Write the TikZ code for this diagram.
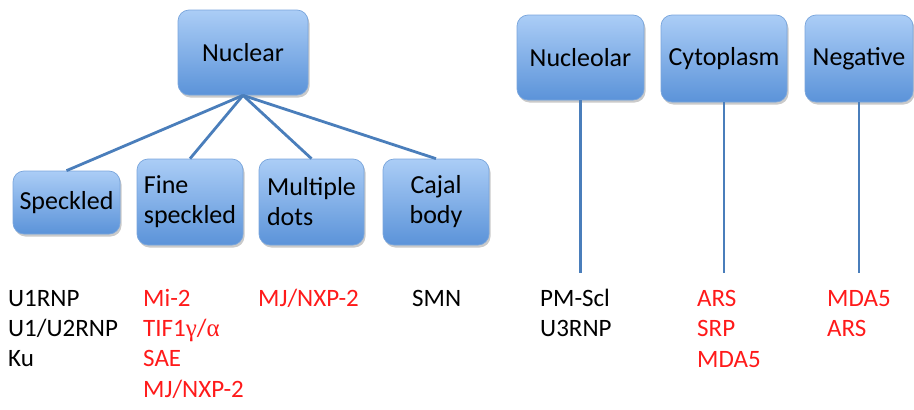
\documentclass[tikz,border=0pt]{standalone}
\usepackage{fontspec}
\setmainfont{Carlito}
\newfontfamily\greekfont{Liberation Serif}
\usetikzlibrary{shadows}

\definecolor{boxtop}{HTML}{ABCDF6}
\definecolor{boxbottom}{HTML}{5B93D9}
\definecolor{boxedge}{HTML}{79A5DC}
\definecolor{linkblue}{HTML}{4A7EBB}
\definecolor{antired}{HTML}{FF1A1A}

\tikzset{
  classbox/.style={draw=boxedge, line width=0.7pt, rounded corners=11pt,
    top color=boxtop, bottom color=boxbottom, inner sep=4pt,
    font=\fontsize{26}{30}\selectfont,
    drop shadow={shadow xshift=1.5pt, shadow yshift=-2.5pt, opacity=0.35, fill=black!60}},
  link/.style={draw=linkblue, line width=2.8pt},
  lbl/.style={anchor=base west, inner sep=0pt, font=\fontsize{25}{30}\selectfont},
  redlbl/.style={lbl, text=antired}
}

\begin{document}
\begin{tikzpicture}[x=1pt, y=-1pt]
  \useasboundingbox (0,0) rectangle (914,410);

  % pattern classes
  \node[classbox, minimum width=130pt, minimum height=85pt] (nuc) at (243,52.5) {Nuclear};
  \node[classbox, minimum width=107pt, minimum height=63pt] (spk) at (66.5,202.5) {Speckled};
  \node[classbox, minimum width=106pt, minimum height=86pt, align=left] (fine) at (190,202) {Fine\\speckled};
  \node[classbox, minimum width=105pt, minimum height=86pt, align=left] (mult) at (311.5,202) {Multiple\\dots};
  \node[classbox, minimum width=106pt, minimum height=86pt, align=center] (cajal) at (436,202) {Cajal\\body};
  \node[classbox, minimum width=127pt, minimum height=85pt] (nucl) at (580.5,57.5) {Nucleolar};
  \node[classbox, minimum width=126pt, minimum height=87pt] (cyto) at (724,58.5) {Cytoplasm};
  \node[classbox, minimum width=108pt, minimum height=87pt] (neg) at (859,58.5) {Negative};

  % branches of the nuclear pattern
  \draw[link] (nuc.south) -- (spk.north);
  \draw[link] (nuc.south) -- (fine.north);
  \draw[link] (nuc.south) -- (mult.north);
  \draw[link] (nuc.south) -- (cajal.north);

  % drop lines to the antibody lists
  \coordinate (stop) at (0,273);
  \draw[link] (nucl.south) -- (nucl.south |- stop);
  \draw[link] (cyto.south) -- (cyto.south |- stop);
  \draw[link] (neg.south) -- (neg.south |- stop);

  % antibody lists
  \node[lbl] (a1) at (8,306) {U1RNP};
  \node[lbl] (a2) at (8,336) {U1/U2RNP};
  \node[lbl] (a3) at (8,366) {Ku};

  \node[redlbl] (b1) at (143,306) {Mi-2};
  \node[redlbl] (b2) at (143,336) {TIF1{\greekfont γ}/{\greekfont α}};
  \node[redlbl] (b3) at (143,366) {SAE};
  \node[redlbl] (b4) at (143,397) {MJ/NXP-2};

  \node[redlbl] (c1) at (258,306) {MJ/NXP-2};

  \node[lbl] (d1) at (412,306) {SMN};

  \node[lbl] (e1) at (540,306) {PM-Scl};
  \node[lbl] (e2) at (540,336) {U3RNP};

  \node[redlbl] (f1) at (697,306) {ARS};
  \node[redlbl] (f2) at (697,336) {SRP};
  \node[redlbl] (f3) at (697,367) {MDA5};

  \node[redlbl] (g1) at (827,306) {MDA5};
  \node[redlbl] (g2) at (827,336) {ARS};
\end{tikzpicture}
\end{document}
